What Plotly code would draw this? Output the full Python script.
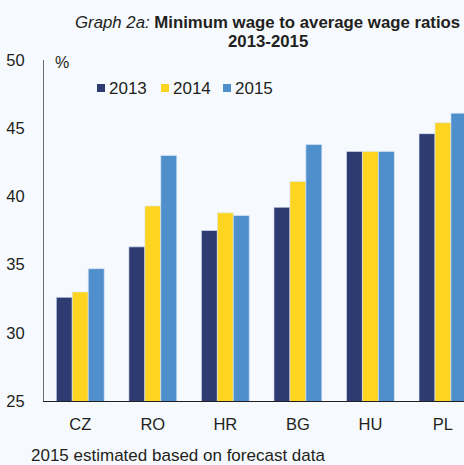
import plotly.graph_objects as go

countries = ["CZ", "RO", "HR", "BG", "HU", "PL"]
years = ["2013", "2014", "2015"]
ratio_2013 = [32.6, 36.3, 37.5, 39.2, 43.3, 44.6]
ratio_2014 = [33.0, 39.3, 38.8, 41.1, 43.3, 45.4]
ratio_2015 = [34.7, 43.0, 38.6, 43.8, 43.3, 46.1]
y_ticks = [25, 30, 35, 40, 45, 50]

colors = ["#2e3a72", "#fdd521", "#4f90cc"]
series = [ratio_2013, ratio_2014, ratio_2015]

FONT = "Liberation Sans, Arial, sans-serif"
TEXT = "#231f20"
BG = "#f6faff"

# plot area geometry in pixels (used to place the free-standing texts)
W, H = 464, 465
L, R, T, B = 44, 0, 60, 64
PW, PH = W - L - R, H - T - B


def px(x):
    return (x - L) / PW


def py(y):
    return (H - B - y) / PH


fig = go.Figure()
for name, vals, col in zip(years, series, colors):
    fig.add_trace(go.Bar(
        x=countries, y=vals, name=name, showlegend=False,
        marker=dict(color=col, line=dict(color="rgba(220,230,245,0.8)", width=0.8)),
    ))

fig.update_layout(
    width=W, height=H,
    margin=dict(l=L, r=R, t=T, b=B),
    paper_bgcolor=BG, plot_bgcolor=BG,
    font=dict(family=FONT, size=16, color=TEXT),
    barmode="group", bargap=0.34, bargroupgap=0,
    showlegend=False,
)

fig.update_xaxes(
    range=[-0.5, 5.29], showgrid=False, showline=True, linecolor="#231f20", linewidth=1,
    ticks="", tickfont=dict(size=16.5, color=TEXT), ticklabelstandoff=8,
)
fig.update_yaxes(
    range=[25, 50], tickvals=y_ticks, showgrid=False, zeroline=False,
    showline=True, linecolor="#6d6d6d", linewidth=1,
    ticks="", tickfont=dict(size=16.5, color=TEXT), ticklabelstandoff=15,
)

# title, two centred lines
fig.add_annotation(text="<i>Graph 2a:</i> <b>Minimum wage to average wage ratios</b>",
                   xref="paper", yref="paper", x=px(267), y=py(22),
                   xanchor="center", yanchor="middle", showarrow=False,
                   font=dict(size=16.8, color=TEXT))
fig.add_annotation(text="<b>2013-2015</b>",
                   xref="paper", yref="paper", x=px(268), y=py(41),
                   xanchor="center", yanchor="middle", showarrow=False,
                   font=dict(size=16.8, color=TEXT))

# legend: small square swatch followed by the year
legend_sq = [97, 161, 223]
legend_tx = [107, 171, 233]
for name, col, sx, tx in zip(years, colors, legend_sq, legend_tx):
    fig.add_shape(type="rect", xref="paper", yref="paper",
                  x0=px(sx), x1=px(sx + 8), y0=py(92), y1=py(84),
                  fillcolor=col, line=dict(width=0))
    fig.add_annotation(text=name, xref="paper", yref="paper", x=px(tx), y=py(88),
                       xanchor="left", yanchor="middle", showarrow=False,
                       font=dict(size=17, color=TEXT))

fig.add_annotation(text="%", xref="paper", yref="paper", x=px(53), y=py(62),
                   xanchor="left", yanchor="middle", showarrow=False,
                   font=dict(size=16, color=TEXT))
fig.add_annotation(text="2015 estimated based on forecast data", xref="paper", yref="paper",
                   x=px(29), y=py(455), xanchor="left", yanchor="middle", showarrow=False,
                   font=dict(size=17, color=TEXT))

fig.write_html("out.html")
